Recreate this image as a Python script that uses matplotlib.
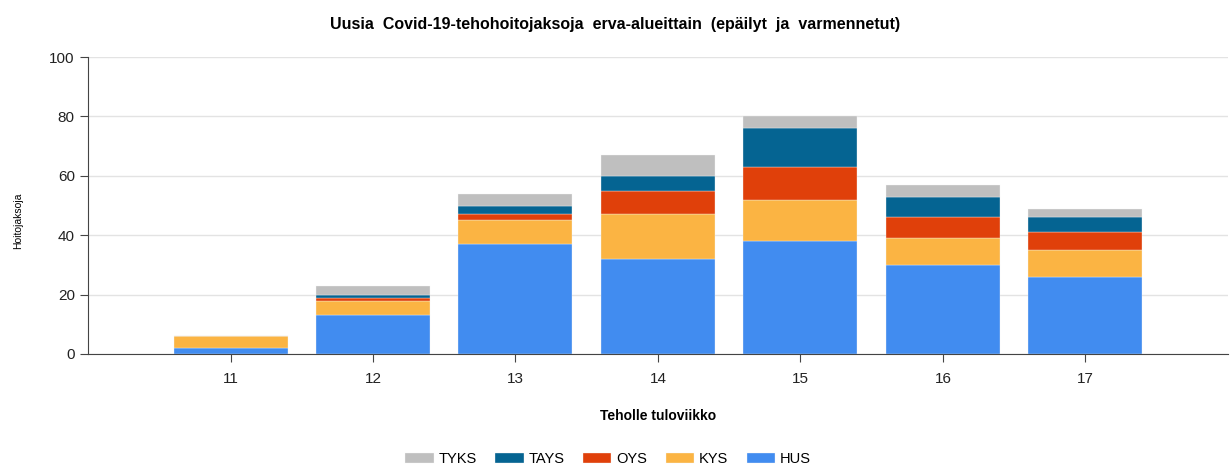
import matplotlib.pyplot as plt
import numpy as np

plt.rcParams['font.family'] = ['Liberation Sans', 'DejaVu Sans']

# Data
weeks = [11, 12, 13, 14, 15, 16, 17]
hus = [2, 13, 37, 32, 38, 30, 26]
kys = [4, 5, 8, 15, 14, 9, 9]
oys = [0, 1, 2, 8, 11, 7, 6]
tays = [0, 1, 3, 5, 13, 7, 5]
tyks = [0, 3, 4, 7, 4, 4, 3]

series = [('HUS', hus, '#418cf0'), ('KYS', kys, '#fbb443'), ('OYS', oys, '#e0400a'),
          ('TAYS', tays, '#056492'), ('TYKS', tyks, '#bfbfbf')]

fig = plt.figure(figsize=(12.31, 4.68), dpi=100)
ax = fig.add_axes([0.0715, 0.2436, 0.926, 0.6344])

bottom = np.zeros(len(weeks))
handles = {}
for name, vals, col in series:
    b = ax.bar(weeks, vals, width=0.8, bottom=bottom, color=col, label=name,
               edgecolor='#f4f4f4', linewidth=0.25, zorder=2)
    handles[name] = b
    bottom += np.array(vals)

ax.set_xlim(10, 18)
ax.set_ylim(0, 100)
ax.set_yticks(range(0, 101, 20))
ax.set_xticks(weeks)
ax.grid(axis='y', color='#e3e3e3', linewidth=1, zorder=0)
for s in ['top', 'right']:
    ax.spines[s].set_visible(False)
for s in ['left', 'bottom']:
    ax.spines[s].set_color('#444444')
ax.tick_params(axis='both', direction='out', length=6, color='#444444',
               labelsize=11, labelcolor='#222222')
ax.tick_params(axis='x', pad=7)

ax.set_xlabel('Teholle tuloviikko', fontsize=10, fontweight='bold')
ax.xaxis.set_label_coords(0.5, -0.185)
ax.set_ylabel('Hoitojaksoja', fontsize=7.5)
ax.yaxis.set_label_coords(-0.057, 0.45)

fig.suptitle('Uusia  Covid-19-tehohoitojaksoja  erva-alueittain  (epäilyt  ja  varmennetut)',
             fontsize=11.5, fontweight='bold', y=0.963)

order = ['TYKS', 'TAYS', 'OYS', 'KYS', 'HUS']
fig.legend([handles[n] for n in order], order, loc='center', bbox_to_anchor=(0.494, 0.019),
           ncol=5, frameon=False, fontsize=10.5, handlelength=1.95, handleheight=0.7,
           columnspacing=1.25, handletextpad=0.35)

plt.savefig('out.png', dpi=100)
plt.close()
